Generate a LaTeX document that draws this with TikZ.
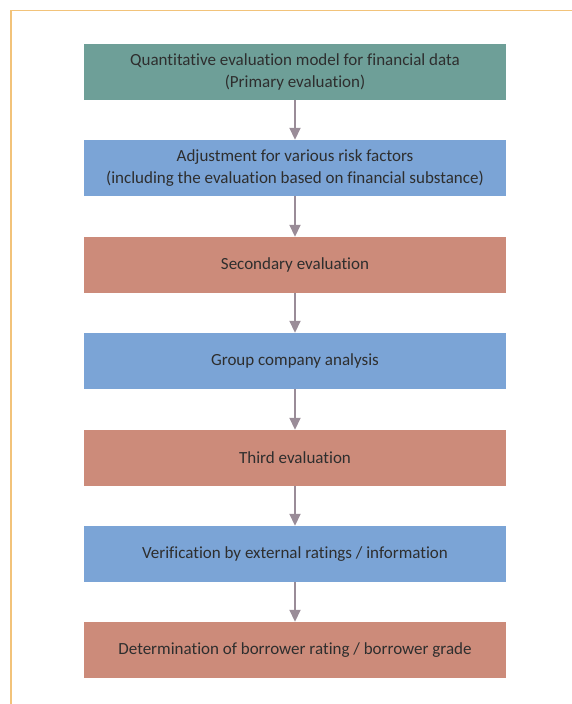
\documentclass[tikz,border=0pt]{standalone}
\usepackage{fontspec}
\setmainfont{Carlito}[Ligatures=NoCommon]
\usetikzlibrary{arrows.meta}
\definecolor{frameor}{HTML}{F2C37A}
\definecolor{tealbox}{HTML}{6E9F98}
\definecolor{bluebox}{HTML}{7BA4D6}
\definecolor{salbox}{HTML}{CC8B7A}
\definecolor{arrowc}{HTML}{9A8C98}
\definecolor{txt}{HTML}{2E2E2E}
\begin{document}
\begin{tikzpicture}[x=1pt,y=-1pt,
  stepbox/.style={minimum width=422pt,minimum height=56pt,inner sep=0pt,align=center,
    text=txt,font=\fontsize{17}{22}\selectfont},
  tealst/.style={stepbox,fill=tealbox},
  bluest/.style={stepbox,fill=bluebox},
  salst/.style={stepbox,fill=salbox},
  flow/.style={draw=arrowc,line width=1.8pt,-{Triangle[length=12pt,width=11pt]}}]
\useasboundingbox (0,0) rectangle (572,704);
\draw[frameor,line width=1.6pt] (572,10.5) -- (11,10.5) -- (11,704);
\node[tealst] (b1) at (295,72) {Quantitative evaluation model for financial data\\(Primary evaluation)};
\node[bluest] (b2) at (295,168) {Adjustment for various risk factors\\(including the evaluation based on financial substance)};
\node[salst] (b3) at (295,265) {Secondary evaluation};
\node[bluest] (b4) at (295,361) {Group company analysis};
\node[salst] (b5) at (295,458) {Third evaluation};
\node[bluest] (b6) at (295,554) {Verification by external ratings / information};
\node[salst] (b7) at (295,650) {Determination of borrower rating / borrower grade};
\foreach \a/\b in {b1/b2,b2/b3,b3/b4,b4/b5,b5/b6,b6/b7}
  \draw[flow] (\a.south) -- (\b.north);
\end{tikzpicture}
\end{document}
